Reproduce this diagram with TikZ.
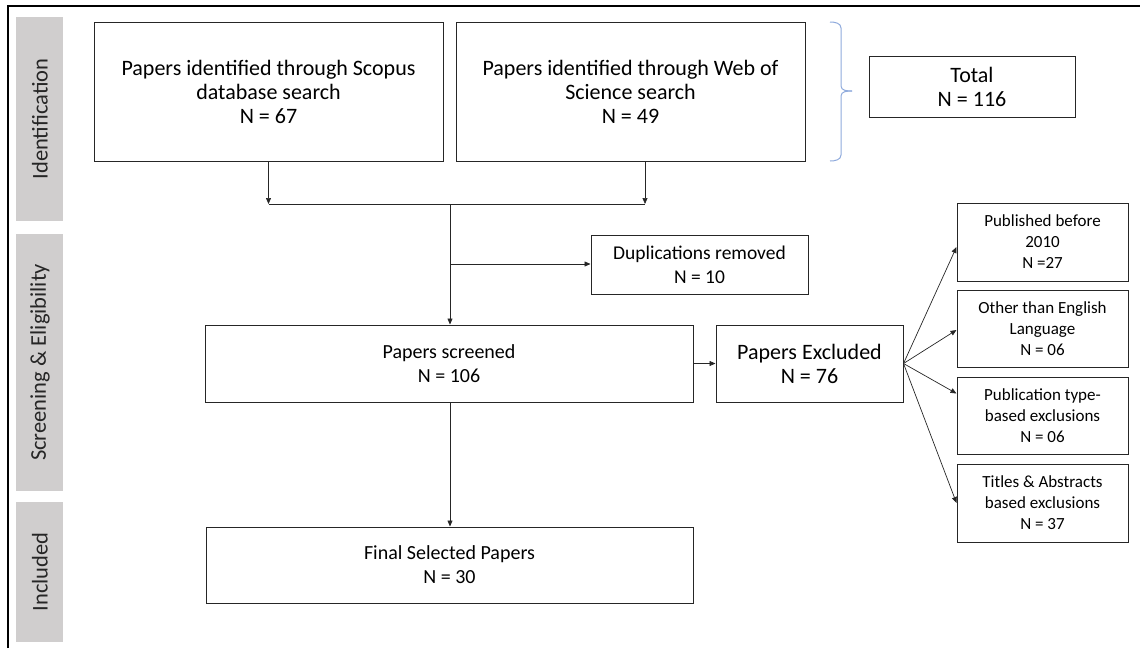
\documentclass[tikz,border=0pt]{standalone}
\usepackage{fontspec}
\setmainfont{Carlito}
\usetikzlibrary{arrows.meta,calc}
\definecolor{barg}{HTML}{D0CECE}
\definecolor{bracec}{HTML}{8FAADC}
\begin{document}
\begin{tikzpicture}[x=1pt,y=-1pt,
  box/.style={draw=black!85, line width=1pt, align=center, inner sep=2pt,
    font=\fontsize{20}{24}\selectfont},
  lbox/.style={box, font=\fontsize{22}{24}\selectfont},
  sbox/.style={box, font=\fontsize{17}{21}\selectfont},
  mbox/.style={box, font=\fontsize{19.5}{24}\selectfont},
  bar/.style={fill=barg, draw=none},
  bartext/.style={rotate=90, font=\fontsize{22.5}{24}\selectfont, text=black!85},
  arr/.style={-{Triangle[length=6pt,width=5pt]}, line width=0.7pt, draw=black!85},
  ln/.style={line width=0.7pt, draw=black!85},
  brace/.style={draw=bracec, line width=1pt}]
\useasboundingbox (0,0) rectangle (1140,648);
% frame
\draw[line width=1.5pt] (8,648) -- (8,6) -- (1140,6);
% side bars
\fill[barg] (16,17) rectangle (63,221);
\fill[barg] (16,234) rectangle (63,491);
\fill[barg] (16,502) rectangle (63,642);
\node[bartext] (lid) at (40,119) {Identification};
\node[bartext] (lse) at (40,362.5) {Screening \& Eligibility};
\node[bartext] (lin) at (40,572) {Included};
% boxes
\node[lbox, minimum width=349, minimum height=139] (scopus) at (268.5,91.5)
  {Papers identified through Scopus\\database search\\N = 67};
\node[lbox, minimum width=349, minimum height=139] (wos) at (630.5,91.5)
  {Papers identified through Web of\\Science search\\N = 49};
\node[lbox, minimum width=206, minimum height=61] (total) at (972,86.5)
  {Total\\N = 116};
\node[mbox, minimum width=217, minimum height=59] (dup) at (699.5,264.5)
  {Duplications removed\\N = 10};
\node[box, minimum width=488, minimum height=77] (screened) at (449,363.5)
  {Papers screened\\N = 106};
\node[lbox, minimum width=187, minimum height=77] (excl) at (809.5,363.5)
  {Papers Excluded\\N = 76};
\node[box, minimum width=487, minimum height=76] (final) at (449.5,565)
  {Final Selected Papers\\N = 30};
\node[sbox, minimum width=171, minimum height=78] (ex1) at (1042.5,242)
  {Published before\\2010\\N =27};
\node[sbox, minimum width=171, minimum height=77] (ex2) at (1042.5,328.5)
  {Other than English\\Language\\N = 06};
\node[sbox, minimum width=171, minimum height=77] (ex3) at (1042.5,415.5)
  {Publication type-\\based exclusions\\N = 06};
\node[sbox, minimum width=171, minimum height=78] (ex4) at (1042.5,503)
  {Titles \& Abstracts\\based exclusions\\N = 37};
% brace
\draw[brace] (830,22) to[out=0,in=90] (841,28) -- (841,86) to[out=-90,in=180] (852,91);
\draw[brace] (852,91) to[out=180,in=90] (841,96) -- (841,155) to[out=-90,in=0] (830,161);
% connectors
\coordinate (j1) at (268.5,204);
\coordinate (j2) at (645,204);
\coordinate (jm) at (450,204);
\coordinate (jd) at (450,264);
\draw[arr] (scopus.south) -- (j1);
\draw[arr] (wos.south -| j2) -- (j2);
\draw[ln] (j1) -- (j2);
\draw[arr] (jm) -- (screened.north -| jm);
\draw[arr] (jd) -- (dup.west |- jd);
\draw[arr] (screened.east) -- (excl.west);
\draw[arr] (screened.south -| jm) -- (final.north -| jm);
\draw[arr] (excl.east) -- ($(ex1.west)+(0,5)$);
\draw[arr] (excl.east) -- ($(ex2.west)+(0,1.5)$);
\draw[arr] (excl.east) -- ($(ex3.west)+(0,-22)$);
\draw[arr] (excl.east) -- (ex4.west);
\end{tikzpicture}
\end{document}
